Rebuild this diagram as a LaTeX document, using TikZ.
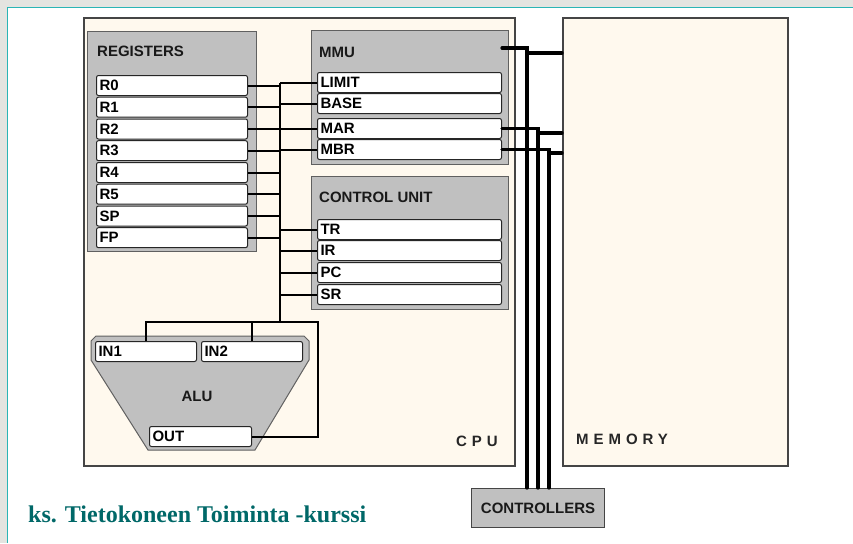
\documentclass[tikz,border=0pt]{standalone}
\usepackage{fontspec}
\setmainfont{Liberation Sans}
\newfontfamily\serifb{Liberation Serif}[BoldFont={Liberation Serif Bold}]
\newfontfamily\spacedfont[LetterSpace=33]{Liberation Sans}
\definecolor{cream}{HTML}{FFF9EE}
\definecolor{panelgray}{HTML}{C0C0C0}
\definecolor{unitborder}{HTML}{454545}
\definecolor{panelborder}{HTML}{606060}
\definecolor{sidegray}{HTML}{E4E4E0}
\definecolor{tealline}{HTML}{2AB5B5}
\definecolor{tealtext}{HTML}{006868}
\begin{document}
\begin{tikzpicture}[x=1pt,y=-1pt,
  font=\bfseries\fontsize{15}{17}\selectfont,
  unit/.style={draw=unitborder, line width=1.6pt, fill=cream, anchor=north west, inner sep=0pt},
  panel/.style={draw=panelborder, line width=1pt, fill=panelgray, anchor=north west, inner sep=0pt},
  cell/.style={draw=black!85, line width=1pt, fill=white, rounded corners=2pt, inner xsep=3pt, inner ysep=0pt,
    minimum height=20pt, align=left, anchor=north west, text=black},
  regw/.style={cell, text width=145pt},
  mmuw/.style={cell, text width=178pt},
  aluw/.style={cell, text width=95pt},
  head/.style={anchor=west, inner sep=0pt, text=black!90},
  wire/.style={line width=2pt, black},
  bus/.style={line width=3.2pt, black, line cap=round},
  spaced/.style={anchor=west, inner sep=0pt, font=\spacedfont\bfseries\fontsize{15}{17}\selectfont, text=black!85}
]
\useasboundingbox (0,0) rectangle (853,543);
\fill[white] (0,0) rectangle (853,543);
\fill[sidegray] (0,0) rectangle (853,7);
\fill[sidegray] (0,0) rectangle (7,543);
\draw[tealline, line width=1.2pt] (7.5,543) -- (7.5,7.5) -- (853,7.5);

% units
\node[unit, minimum width=431pt, minimum height=448pt] (cpu) at (83,17) {};
\node[unit, minimum width=225pt, minimum height=448pt] (mem) at (562,17) {};

% panels
\node[panel, minimum width=169pt, minimum height=220pt] (regp) at (87,31) {};
\node[panel, minimum width=197pt, minimum height=134pt] (mmup) at (311,30) {};
\node[panel, minimum width=197pt, minimum height=133pt] (cup) at (311,176) {};

\node[head] (lreg) at (97,51) {REGISTERS};
\node[head] (lmmu) at (319,52) {MMU};
\node[head] (lcu) at (319,197) {CONTROL UNIT};

% registers
\foreach \n/\y in {R0/75,R1/96.7,R2/118.5,R3/140.2,R4/162,R5/183.7,SP/205.5,FP/227.2}
  \node[regw] (\n) at (96,\y) {\n};

% MMU cells
\node[mmuw] (LIMIT) at (317,72) {LIMIT};
\node[mmuw] (BASE) at (317,93) {BASE};
\node[mmuw] (MAR) at (317,118) {MAR};
\node[mmuw] (MBR) at (317,139) {MBR};

% control unit cells
\node[mmuw] (TR) at (317,219) {TR};
\node[mmuw] (IR) at (317,240) {IR};
\node[mmuw] (PC) at (317,262) {PC};
\node[mmuw] (SR) at (317,284) {SR};

% ALU
\draw[draw=panelborder, line width=1pt, fill=panelgray]
  (96,336) -- (304,336) -- (309,341) -- (309,360) -- (255,450) -- (148,450) -- (91,360) -- (91,341) -- cycle;
\node[aluw] (IN1) at (95,341) {IN1};
\node[aluw] (IN2) at (201,341) {IN2};
\node[aluw, text width=96pt] (OUT) at (149,426) {OUT};
\node[head, anchor=center] (lalu) at (197,396) {ALU};

% internal bus
\coordinate (busx) at (280,0);
\coordinate (aj) at (280,322);
\coordinate (aright) at (318,322);
\draw[wire] (LIMIT.west -| busx) -- (aj);
\foreach \n in {R0,R1,R2,R3,R4,R5,SP,FP}
  \draw[wire] (\n.east) -- (\n.east -| busx);
\foreach \n in {LIMIT,BASE,MAR,MBR,TR,IR,PC,SR}
  \draw[wire] (\n.west -| busx) -- (\n.west);
\draw[wire] (IN1.north) -- (IN1.north |- aj) -- (aright) -- (aright |- OUT.east) -- (OUT.east);
\draw[wire] (IN2.north) -- (IN2.north |- aj);

% controllers
\node[panel, draw=unitborder, minimum width=133pt, minimum height=39pt] (ctrl) at (471,488) {};
\node[head, anchor=center] (lctrl) at (ctrl.center) {CONTROLLERS};

% memory bus
\coordinate (mmuport) at (502,48);
\coordinate (b1) at (527,48);
\coordinate (m1) at (527,53);
\coordinate (b2) at (538,0);
\coordinate (m2) at (538,133);
\coordinate (b3) at (549,0);
\coordinate (m3) at (549,153);
\draw[bus] (mmuport) -- (b1) -- (b1 |- ctrl.north);
\draw[bus] (m1) -- (m1 -| mem.west);
\draw[bus] (MAR.east) -- (MAR.east -| b2) -- (b2 |- ctrl.north);
\draw[bus] (m2) -- (m2 -| mem.west);
\draw[bus] (MBR.east) -- (MBR.east -| b3) -- (b3 |- ctrl.north);
\draw[bus] (m3) -- (m3 -| mem.west);

% unit labels
\node[spaced] (lcpu) at (456,441) {CPU};
\node[spaced] (lmem) at (576,439) {MEMORY};

% footer
\node[anchor=base west, inner sep=0pt, text=tealtext, font=\serifb\bfseries\fontsize{24}{28}\selectfont] (foot) at (28,522) {ks. Tietokoneen Toiminta -kurssi};
\end{tikzpicture}
\end{document}
